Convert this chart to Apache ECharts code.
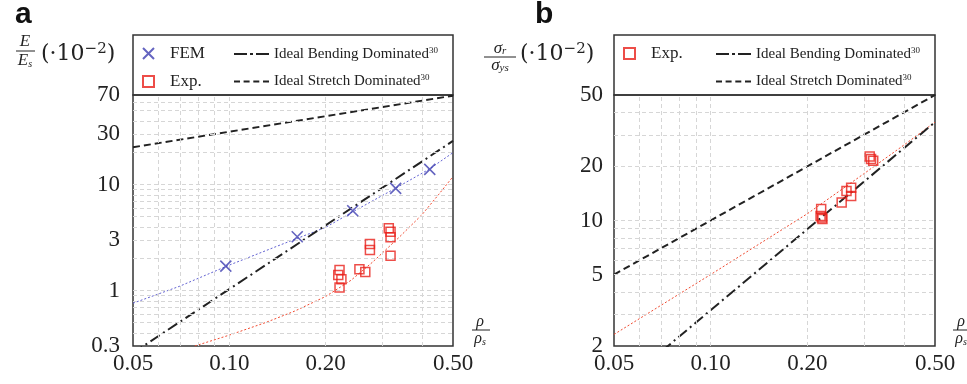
<!DOCTYPE html>
<html>
<head>
<meta charset="utf-8">
<script src="https://cdn.jsdelivr.net/npm/echarts@6/dist/echarts.min.js"></script>
<style>
  html, body { margin: 0; padding: 0; background: #fff; }
  #chart { width: 967px; height: 384px; }
</style>
</head>
<body>
<div id="chart"></div>
<script>
// ticks + grid lines (log axes)
const xTicks = [0.05, 0.10, 0.20, 0.50];
const yTicksA = [0.3, 1, 3, 10, 30, 70];
const yTicksB = [2, 5, 10, 20, 50];
const gridX = [0.06, 0.07, 0.08, 0.09, 0.1, 0.2, 0.3, 0.4];
const gridYA = [0.4, 0.5, 0.6, 0.7, 0.8, 0.9, 1, 2, 3, 4, 5, 6, 7, 8, 9, 10, 20, 30, 40, 50, 60];
const gridYB = [3, 4, 5, 6, 7, 8, 9, 10, 20, 30, 40];

// panel a : E/Es
const femRho = [0.0975, 0.163, 0.243, 0.331, 0.423];
const femE = [1.70, 3.22, 5.66, 9.2, 13.9];
const expRhoA = [0.221, 0.219, 0.224, 0.221, 0.255, 0.266, 0.275, 0.275, 0.315, 0.319, 0.319, 0.319];
const expE = [1.56, 1.40, 1.28, 1.07, 1.59, 1.50, 2.75, 2.41, 3.87, 3.59, 3.18, 2.13];
const femFitRho = [0.05, 0.07, 0.1, 0.14, 0.2, 0.25, 0.33, 0.42, 0.5];
const femFitE = [0.76, 1.1, 1.74, 2.6, 3.95, 5.8, 9.2, 13.9, 20];
const expFitRhoA = [0.078, 0.1, 0.13, 0.16, 0.2, 0.24, 0.28, 0.34, 0.4, 0.45, 0.5];
const expFitE = [0.30, 0.38, 0.5, 0.64, 0.88, 1.25, 1.85, 3.2, 5.2, 8.0, 11.9];
const idealRho = [0.05, 0.5];
const bendE = [0.258, 25.8];
const stretchE = [22.5, 69];

// panel b : sigma_r/sigma_ys
const expRhoB = [0.221, 0.220, 0.223, 0.222, 0.256, 0.265, 0.274, 0.274, 0.313, 0.316, 0.321];
const expS = [11.6, 10.6, 10.2, 10.4, 12.6, 14.6, 15.2, 13.7, 22.7, 22.0, 21.5];
const expFitRhoB = [0.05, 0.1, 0.2, 0.3, 0.4, 0.5];
const expFitS = [2.32, 5.0, 10.9, 18.2, 26.3, 35.3];
const bendS = [1.12, 35.3];
const stretchS = [5.0, 50];

const pairs = (xs, ys) => xs.map((x, i) => [x, ys[i]]);

const SERIF = '"Liberation Serif", "DejaVu Serif", serif';
const SERIF_W = '"DejaVu Serif", "Liberation Serif", serif';
const BLUE = '#3d3db0';
const BLUE_LINE = '#6262d2';
const RED = '#e8201a';
const RED_LINE = '#f04a30';
const INK = '#222';
const DASH = [7, 4];
const DASHDOT = [11, 4, 2, 4];
// legend icons (drawn as little filled bars)
const ICON_DASHDOT = 'path://M0,0h13v2h-13zM16,0h3v2h-3zM22,0h13v2h-13z';
const ICON_DASH = 'path://M0,0h6v2h-6zM9.6,0h6v2h-6zM19.3,0h6v2h-6zM29,0h6v2h-6z';
const ICON_SQUARE = 'path://M0,0h10v10h-10z';

const chart = echarts.init(document.getElementById('chart'));

function xAxisFor(i) {
  return {
    type: 'log', logBase: 10, gridIndex: i, min: 0.05, max: 0.5,
    axisLine: { show: false }, axisTick: { show: false }, splitLine: { show: false },
    axisLabel: {
      customValues: xTicks, margin: 6,
      fontFamily: SERIF, fontSize: 23, color: INK,
      formatter: v => Number(v).toFixed(2)
    }
  };
}
function yAxisFor(i, min, max, ticks, margin) {
  return {
    type: 'log', logBase: 10, gridIndex: i, min: min, max: max,
    axisLine: { show: false }, axisTick: { show: false }, splitLine: { show: false },
    axisLabel: {
      customValues: ticks, margin: margin,
      fontFamily: SERIF, fontSize: 23, color: INK,
      formatter: v => String(+Number(v).toPrecision(3))
    }
  };
}
function gridLines(i, ys) {
  return {
    type: 'line', xAxisIndex: i, yAxisIndex: i, data: [], z: 1,
    markLine: {
      silent: true, symbol: ['none', 'none'], label: { show: false },
      lineStyle: { color: '#d6d6d6', type: [4, 3], width: 1 },
      emphasis: { disabled: true },
      data: gridX.map(v => ({ xAxis: v })).concat(ys.map(v => ({ yAxis: v })))
    }
  };
}
function lineSeries(i, name, data, color, width, type, z) {
  return {
    type: 'line', name: name, xAxisIndex: i, yAxisIndex: i, data: data,
    symbol: 'none', showSymbol: false, z: z || 3,
    lineStyle: { color: color, width: width, type: type }, itemStyle: { color: color }
  };
}

const legendText = {
  fontFamily: SERIF, fontSize: 15, color: INK,
  rich: {
    m: { fontFamily: SERIF, fontSize: 15, color: INK, lineHeight: 16 },
    s: { fontFamily: SERIF, fontSize: 9, color: INK, verticalAlign: 'top', lineHeight: 16, padding: [0, 0, 6, 0] }
  }
};
const markText = { fontFamily: SERIF, fontSize: 17, color: INK, padding: [0, 0, 0, 11] };
const supFmt = n => '{m|' + n + '}{s|30}';
const lineLegendData = [
  { name: 'Ideal Bending Dominated', icon: ICON_DASHDOT, itemStyle: { color: INK, borderWidth: 0 } },
  { name: 'Ideal Stretch Dominated', icon: ICON_DASH, itemStyle: { color: INK, borderWidth: 0 } }
];
const expLegendItem = { name: 'Exp.', icon: ICON_SQUARE };

const option = {
  animation: false,
  backgroundColor: '#fff',
  grid: [
    { left: 133, top: 95, width: 320, height: 251, show: true, borderColor: '#333', borderWidth: 1.5, backgroundColor: 'transparent' },
    { left: 614, top: 95, width: 321, height: 251, show: true, borderColor: '#333', borderWidth: 1.5, backgroundColor: 'transparent' }
  ],
  xAxis: [xAxisFor(0), xAxisFor(1)],
  yAxis: [yAxisFor(0, 0.3, 70, yTicksA, 13), yAxisFor(1, 2, 50, yTicksB, 11)],
  legend: [
    {
      orient: 'vertical', left: 142, top: 45, padding: 0, itemWidth: 11, itemHeight: 11, itemGap: 11,
      data: ['FEM', expLegendItem], selectedMode: false, textStyle: markText
    },
    {
      orient: 'vertical', left: 234, top: 46, padding: 0, itemWidth: 35, itemHeight: 12, itemGap: 12,
      data: lineLegendData, selectedMode: false,
      formatter: supFmt, textStyle: legendText
    },
    {
      orient: 'vertical', left: 623, top: 45, padding: 0, itemWidth: 11, itemHeight: 11, itemGap: 11,
      data: [expLegendItem], selectedMode: false, textStyle: markText
    },
    {
      orient: 'vertical', left: 716, top: 46, padding: 0, itemWidth: 35, itemHeight: 12, itemGap: 12,
      data: lineLegendData, selectedMode: false,
      formatter: supFmt, textStyle: legendText
    }
  ],
  series: [
    gridLines(0, gridYA),
    gridLines(1, gridYB),
    // panel a
    lineSeries(0, 'Ideal Stretch Dominated', pairs(idealRho, stretchE), INK, 2, DASH, 4),
    lineSeries(0, 'Ideal Bending Dominated', pairs(idealRho, bendE), INK, 2, DASHDOT, 4),
    lineSeries(0, 'FEM fit', pairs(femFitRho, femFitE), BLUE_LINE, 1, [2, 2], 3),
    lineSeries(0, 'Exp. fit', pairs(expFitRhoA, expFitE), RED_LINE, 1, [2, 2], 3),
    {
      type: 'scatter', name: 'FEM', xAxisIndex: 0, yAxisIndex: 0, z: 5,
      data: pairs(femRho, femE),
      symbol: 'path://M0,0L10,10M10,0L0,10', symbolSize: 11,
      itemStyle: { color: 'rgba(0,0,0,0)', borderColor: BLUE, borderWidth: 1.6 }
    },
    {
      type: 'scatter', name: 'Exp.', xAxisIndex: 0, yAxisIndex: 0, z: 5,
      data: pairs(expRhoA, expE),
      symbol: 'rect', symbolSize: 9,
      itemStyle: { color: 'rgba(0,0,0,0)', borderColor: RED, borderWidth: 1.5 }
    },
    // panel b
    lineSeries(1, 'Ideal Stretch Dominated', pairs(idealRho, stretchS), INK, 2, DASH, 4),
    lineSeries(1, 'Ideal Bending Dominated', pairs(idealRho, bendS), INK, 2, DASHDOT, 4),
    lineSeries(1, 'Exp. fit', pairs(expFitRhoB, expFitS), RED_LINE, 1, [2, 2], 3),
    {
      type: 'scatter', name: 'Exp.', xAxisIndex: 1, yAxisIndex: 1, z: 5,
      data: pairs(expRhoB, expS),
      symbol: 'rect', symbolSize: 9,
      itemStyle: { color: 'rgba(0,0,0,0)', borderColor: RED, borderWidth: 1.5 }
    }
  ],
  graphic: [
    // legend boxes sitting on top of the plots
    { type: 'rect', shape: { x: 133, y: 35, width: 320, height: 60 }, style: { fill: 'none', stroke: '#333', lineWidth: 1.5 }, silent: true },
    { type: 'rect', shape: { x: 614, y: 35, width: 321, height: 60 }, style: { fill: 'none', stroke: '#333', lineWidth: 1.5 }, silent: true },
    // panel letters
    { type: 'text', x: 15, y: 15, style: { text: 'a', font: 'bold 30px "Liberation Sans", Arial, sans-serif', fill: '#111', verticalAlign: 'middle' } },
    { type: 'text', x: 535, y: 15, style: { text: 'b', font: 'bold 30px "Liberation Sans", Arial, sans-serif', fill: '#111', verticalAlign: 'middle' } },
    // y titles
    { type: 'text', x: 25, y: 42, style: { text: 'E', font: 'italic 17px ' + SERIF, fill: INK, align: 'center', verticalAlign: 'middle' } },
    { type: 'line', shape: { x1: 16, y1: 51, x2: 35, y2: 51 }, style: { stroke: INK, lineWidth: 1 } },
    { type: 'text', x: 25, y: 61, style: { text: '{i|E}{s|s}', align: 'center', verticalAlign: 'middle',
      rich: { i: { font: 'italic 17px ' + SERIF, fill: INK }, s: { font: 'italic 10px ' + SERIF, fill: INK, padding: [7, 0, 0, 0] } } } },
    { type: 'text', x: 41, y: 54, style: { text: '{m|(·10}{s|−2}{m|)}', verticalAlign: 'middle',
      rich: { m: { font: '22px ' + SERIF_W, fill: INK }, s: { font: '15px ' + SERIF_W, fill: INK, verticalAlign: 'top', padding: [0, 0, 10, 0] } } } },

    { type: 'text', x: 500, y: 49, style: { text: '{i|σ}{s|r}', align: 'center', verticalAlign: 'middle',
      rich: { i: { font: 'italic 17px ' + SERIF, fill: INK }, s: { font: 'italic 11px ' + SERIF, fill: INK, padding: [5, 0, 0, 0] } } } },
    { type: 'line', shape: { x1: 484, y1: 57, x2: 516, y2: 57 }, style: { stroke: INK, lineWidth: 1 } },
    { type: 'text', x: 500, y: 66, style: { text: '{i|σ}{s|ys}', align: 'center', verticalAlign: 'middle',
      rich: { i: { font: 'italic 17px ' + SERIF, fill: INK }, s: { font: 'italic 11px ' + SERIF, fill: INK, padding: [5, 0, 0, 0] } } } },
    { type: 'text', x: 520, y: 54, style: { text: '{m|(·10}{s|−2}{m|)}', verticalAlign: 'middle',
      rich: { m: { font: '22px ' + SERIF_W, fill: INK }, s: { font: '15px ' + SERIF_W, fill: INK, verticalAlign: 'top', padding: [0, 0, 10, 0] } } } },

    // x titles
    { type: 'text', x: 480, y: 322, style: { text: 'ρ', font: 'italic 16px ' + SERIF, fill: INK, align: 'center', verticalAlign: 'middle' } },
    { type: 'line', shape: { x1: 472, y1: 330, x2: 490, y2: 330 }, style: { stroke: INK, lineWidth: 1 } },
    { type: 'text', x: 480, y: 339, style: { text: '{i|ρ}{s|s}', align: 'center', verticalAlign: 'middle',
      rich: { i: { font: 'italic 16px ' + SERIF, fill: INK }, s: { font: 'italic 10px ' + SERIF, fill: INK, padding: [6, 0, 0, 0] } } } },
    { type: 'text', x: 961, y: 322, style: { text: 'ρ', font: 'italic 16px ' + SERIF, fill: INK, align: 'center', verticalAlign: 'middle' } },
    { type: 'line', shape: { x1: 953, y1: 330, x2: 971, y2: 330 }, style: { stroke: INK, lineWidth: 1 } },
    { type: 'text', x: 961, y: 339, style: { text: '{i|ρ}{s|s}', align: 'center', verticalAlign: 'middle',
      rich: { i: { font: 'italic 16px ' + SERIF, fill: INK }, s: { font: 'italic 10px ' + SERIF, fill: INK, padding: [6, 0, 0, 0] } } } }
  ]
};

chart.setOption(option);
</script>
</body>
</html>
